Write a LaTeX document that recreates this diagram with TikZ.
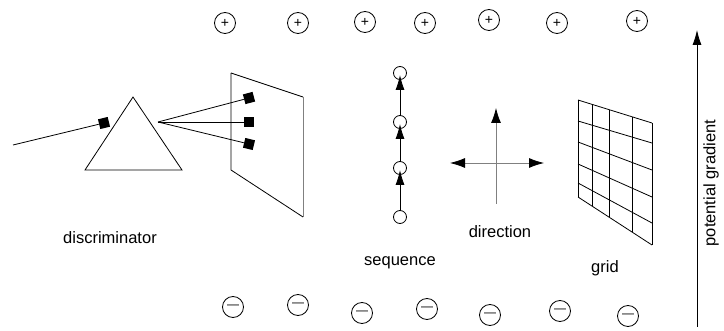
\documentclass[tikz,border=0pt]{standalone}
\usepackage{fontspec}
\setmainfont{Liberation Sans}
\usetikzlibrary{arrows.meta, shapes}

\begin{document}
\begin{tikzpicture}[x=1pt, y=-1pt, line width=0.8pt,
  lbl/.style={font=\fontsize{16.5}{20}\selectfont},
  charge/.style={draw, circle, minimum size=21pt, inner sep=0pt, font=\fontsize{14}{14}\selectfont},
  bead/.style={draw, circle, minimum size=13pt, inner sep=0pt},
  photon/.style={fill, rectangle, minimum size=10pt, inner sep=0pt},
  tip/.style={-{Latex[length=15pt, width=9pt]}}]
 \useasboundingbox (0,0) rectangle (724,331);
 % charges
 \node[charge] (P1) at (225,23) {+};
 \node[charge] (P2) at (298,23) {+};
 \node[charge] (P3) at (365,22) {+};
 \node[charge] (P4) at (425,23) {+};
 \node[charge] (P5) at (489,20) {+};
 \node[charge] (P6) at (557,23) {+};
 \node[charge] (P7) at (637,21) {+};
 \node[charge, font=\fontsize{12}{12}\selectfont] (M1) at (233,307) {—};
 \node[charge, font=\fontsize{12}{12}\selectfont] (M2) at (298,305) {—};
 \node[charge, font=\fontsize{12}{12}\selectfont] (M3) at (362,313) {—};
 \node[charge, font=\fontsize{12}{12}\selectfont] (M4) at (427,309) {—};
 \node[charge, font=\fontsize{12}{12}\selectfont] (M5) at (490,315) {—};
 \node[charge, font=\fontsize{12}{12}\selectfont] (M6) at (560,311) {—};
 \node[charge, font=\fontsize{12}{12}\selectfont] (M7) at (628,316) {—};
 % potential gradient
 \coordinate (G0) at (697,327);
 \coordinate (G1) at (697,30);
 \draw[tip] (G0) -- (G1);
 \node[lbl, rotate=90] (GL) at (711,183) {potential gradient};
 % discriminator
 \draw (85,170) -- (133,97) -- (182,170) -- cycle;
 \coordinate (src) at (13,145);
 \coordinate (focus) at (158,122);
 \node[photon, rotate=13.6] (in) at (104,123) {};
 \node[photon, rotate=14.8] (out1) at (249,98) {};
 \node[photon] (out2) at (249,122) {};
 \node[photon, rotate=-13.6] (out3) at (249,144) {};
 \draw (231,73) -- (303,97);
 \draw[gray] (303,97) -- (303,217);
 \draw (303,217) -- (231,170) -- (231,73);
 \draw (src) -- (in);
 \draw (focus) -- (out1);
 \draw (focus) -- (out2);
 \draw (focus) -- (out3);
 \node[lbl] (DL) at (110,238) {discriminator};
 % sequence
 \node[bead] (S1) at (400,217) {};
 \node[bead] (S2) at (400,168) {};
 \node[bead] (S3) at (400,122) {};
 \node[bead] (S4) at (400,73) {};
 \draw[tip, shorten >=2pt] (S1) -- (S2.center);
 \draw[tip, shorten >=2pt] (S2) -- (S3.center);
 \draw[tip, shorten >=2pt] (S3) -- (S4.center);
 \node[lbl] (SL) at (400,263) {sequence};
 % direction
 \coordinate (dS) at (496,204);
 \coordinate (dN) at (496,108);
 \coordinate (dW) at (450,163);
 \coordinate (dE) at (544,163);
 \draw[gray, -{Latex[length=15pt, width=10pt, color=black]}] (dS) -- (dN);
 \draw[gray, {Latex[length=15pt, width=10pt, color=black]}-{Latex[length=15pt, width=10pt, color=black]}] (dW) -- (dE);
 \node[lbl] (RL) at (500,232) {direction};
 % grid
 \foreach \l/\r in {100/123, 121/143, 142/170, 164/197, 183/223, 197/245}
  \draw (578,\l) -- (652,\r);
 \foreach \x in {578, 592, 609, 632, 652}
  \draw (\x,{100+(\x-578)*23/74}) -- (\x,{197+(\x-578)*48/74});
 \node[lbl] (GR) at (605,268) {grid};
\end{tikzpicture}
\end{document}
